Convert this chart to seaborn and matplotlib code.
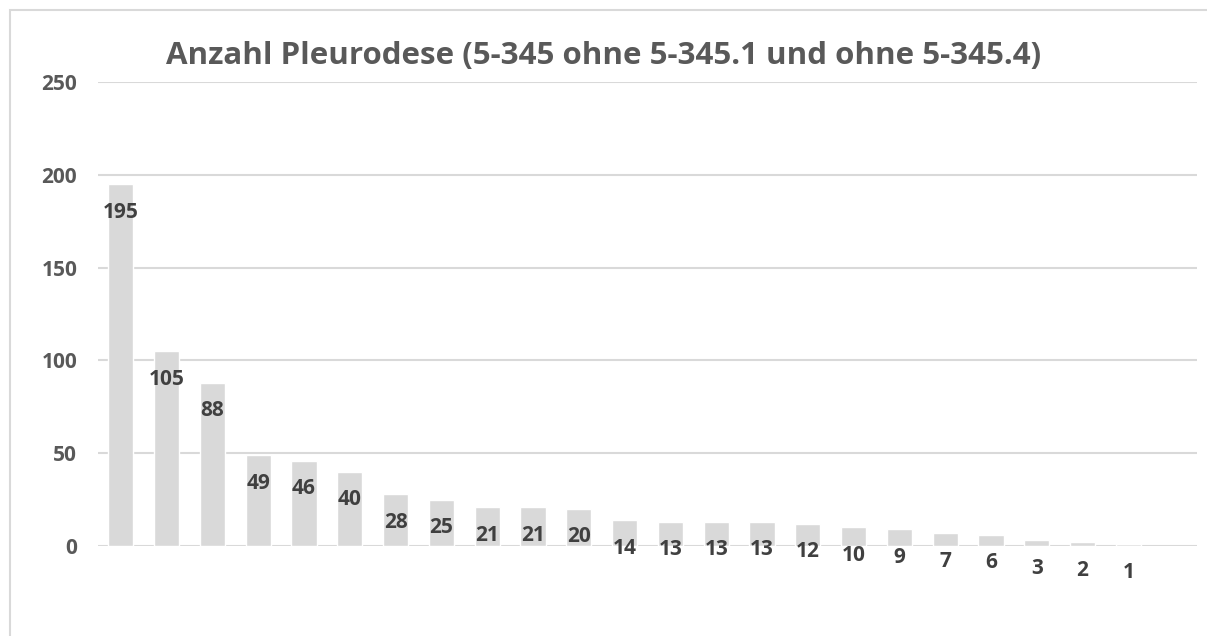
import matplotlib
matplotlib.use("Agg")
import matplotlib.pyplot as plt
import seaborn as sns
import pandas as pd
from matplotlib.patches import Rectangle

# Daten
werte = [195, 105, 88, 49, 46, 40, 28, 25, 21, 21, 20, 14, 13, 13, 13, 12, 10, 9, 7, 6, 3, 2, 1]
kategorien = [str(i + 1) for i in range(len(werte))]
titel = "Anzahl Pleurodese (5-345 ohne 5-345.1 und ohne 5-345.4)"
y_ticks = [0, 50, 100, 150, 200, 250]

df = pd.DataFrame({"kat": kategorien, "wert": werte})

sns.set_theme(style="white")
plt.rcParams["font.family"] = ["Open Sans", "DejaVu Sans"]

fig = plt.figure(figsize=(12.07, 6.36), dpi=100)
ax = fig.add_axes([98 / 1207, 90 / 636, 1099 / 1207, 464 / 636])

# Rahmen des Diagrammbereichs
fig.patches.append(Rectangle((9.5 / 1207, -0.1), 1.2, (626 / 636) + 0.1, transform=fig.transFigure,
                             fill=False, edgecolor="#D9D9D9", linewidth=1.5, zorder=0))

sns.barplot(data=df, x="kat", y="wert", color="#D9D9D9", saturation=1, width=0.55, ax=ax, zorder=2)

ax.set_xlim(-0.5, 23.5)
ax.set_ylim(0, 250)
ax.set_yticks(y_ticks)
ax.set_yticklabels([str(t) for t in y_ticks], fontsize=15, fontweight="bold", color="#595959")
ax.tick_params(axis="y", length=0, pad=15)
ax.set_xticks([])
ax.set_xlabel("")
ax.set_ylabel("")
for s in ax.spines.values():
    s.set_visible(False)
ax.yaxis.grid(True, color="#D9D9D9", linewidth=1.5, zorder=0)
ax.set_axisbelow(True)

# Datenbeschriftungen "innen am Ende"
for i, v in enumerate(werte):
    ax.annotate(str(v), xy=(i, v), xytext=(0, -28), textcoords="offset pixels",
                ha="center", va="center", fontsize=15, fontweight="bold", color="#404040", zorder=3)

fig.text(0.5, 1 - 64 / 636, titel, ha="center", va="baseline", fontsize=22.5,
         fontweight="bold", color="#595959")

fig.savefig("out.png", dpi=100, facecolor="white")
